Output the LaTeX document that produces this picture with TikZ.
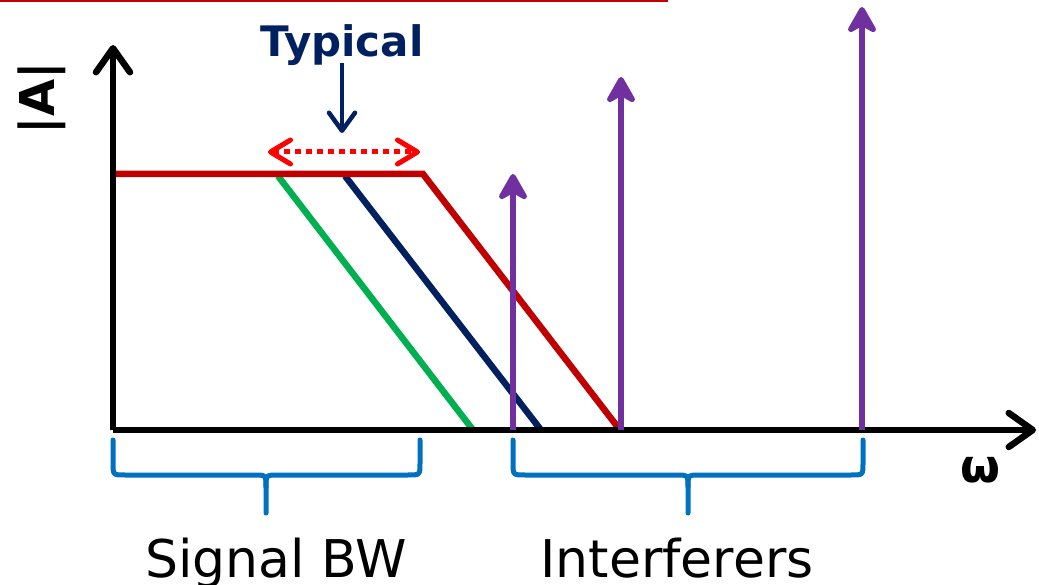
\documentclass[tikz,border=0pt]{standalone}
\usepackage{fontspec}
\setmainfont{DejaVu Sans}
\usetikzlibrary{arrows.meta}
\definecolor{cred}{HTML}{C00000}
\definecolor{bred}{HTML}{FF0000}
\definecolor{cgreen}{HTML}{00B050}
\definecolor{cnavy}{HTML}{002060}
\definecolor{cpurple}{HTML}{7030A0}
\definecolor{cblue}{HTML}{0070C0}
\tikzset{
  axis/.style={line width=6.5pt, draw=black, -{Straight Barb[length=24pt,width=34pt,round]}},
  curve/.style={line width=6.5pt},
  tone/.style={line width=6pt, draw=cpurple, -{Stealth[length=32pt,width=36pt,inset=10pt,round]}},
  brace/.style={line width=5pt, draw=cblue, line cap=round, line join=round},
  lbl/.style={inner sep=0pt, font=\fontsize{52}{60}\selectfont},
}
\begin{document}
\begin{tikzpicture}[x=1pt,y=-1pt]
\useasboundingbox (0,0) rectangle (1039,585);
% top rule
\coordinate (r1) at (0,1);
\coordinate (r2) at (668,1);
\draw[cred, line width=2pt] (r1) -- (r2);
% axes
\coordinate (O) at (113,430);
\coordinate (ytip) at (113,45);
\coordinate (xtip) at (1036,430);
% curves
\coordinate (f0) at (113,174);
\coordinate (f1) at (423,174);
\coordinate (f2) at (620,430);
\coordinate (g1) at (278,176);
\coordinate (g2) at (473,430);
\coordinate (n1) at (345,176);
\coordinate (n2) at (541,430);
\draw[curve, cgreen] (g1) -- (g2);
\draw[curve, cnavy] (n1) -- (n2);
\draw[curve, cred] (f0) -- (f1) -- (f2);
\draw[axis] (O) -- (ytip);
\draw[axis] (O) -- (xtip);
% interferers
\coordinate (p1b) at (513,430); \coordinate (p1t) at (513,174);
\coordinate (p2b) at (621,430); \coordinate (p2t) at (621,77);
\coordinate (p3b) at (862,430); \coordinate (p3t) at (862,7);
\draw[tone] (p1b) -- (p1t);
\draw[tone] (p2b) -- (p2t);
\draw[tone] (p3b) -- (p3t);
% typical
\node[inner sep=0pt, anchor=base, text=cnavy, font=\bfseries\fontsize{42}{48}\selectfont] (typ) at (342,57) {Typical};
\coordinate (ta) at (342,63);
\coordinate (tb) at (342,133);
\draw[cnavy, line width=4.5pt, -{Straight Barb[length=18pt,width=26pt,round]}] (ta) -- (tb);
\coordinate (da) at (268,152);
\coordinate (db) at (420,152);
\draw[bred, line width=5pt, dash pattern=on 6pt off 5pt,
  {Straight Barb[length=20pt,width=24pt,round]}-{Straight Barb[length=20pt,width=24pt,round]}] (da) -- (db);
% braces
\draw[brace] (113,440) -- (113,463) .. controls (113,475) .. (125,475) -- (254,475) .. controls (266,475) .. (266,487) -- (266,513);
\draw[brace] (420,440) -- (420,463) .. controls (420,475) .. (408,475) -- (278,475) .. controls (266,475) .. (266,487);
\draw[brace] (513,440) -- (513,463) .. controls (513,475) .. (525,475) -- (676,475) .. controls (688,475) .. (688,487) -- (688,513);
\draw[brace] (863,440) -- (863,463) .. controls (863,475) .. (851,475) -- (700,475) .. controls (688,475) .. (688,487);
% labels
\node[lbl, anchor=base] (sbw) at (276,577) {Signal BW};
\node[lbl, anchor=base] (intf) at (677,577) {Interferers};
\node[inner sep=0pt, rotate=90, font=\bfseries\fontsize{48}{54}\selectfont] (amp) at (42,98) {|A|};
\node[inner sep=0pt, font=\bfseries\fontsize{46}{50}\selectfont] (om) at (980,470) {ω};
\end{tikzpicture}
\end{document}
